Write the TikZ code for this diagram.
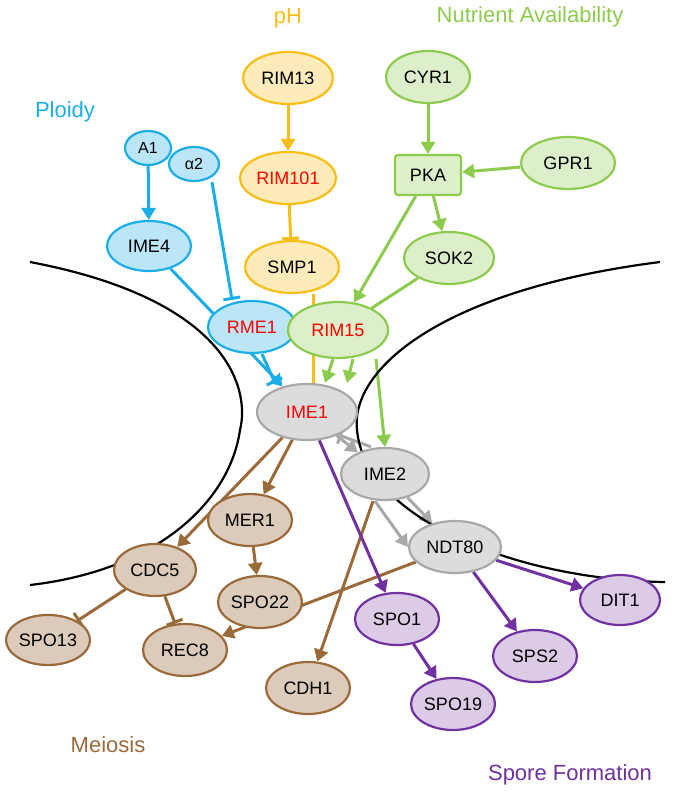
\documentclass[tikz,border=0pt]{standalone}
\usepackage{fontspec}
\setmainfont{Liberation Sans}
\usetikzlibrary{arrows.meta}
\usetikzlibrary{backgrounds}
\usetikzlibrary{shapes}

\definecolor{cBlue}{HTML}{1BADE8}
\definecolor{cYel}{HTML}{F9BE16}
\definecolor{cGrn}{HTML}{8DCB4E}
\definecolor{cGry}{HTML}{A8A8A8}
\definecolor{cBrn}{HTML}{9B6A3A}
\definecolor{cPur}{HTML}{7131A1}

\begin{document}
\begin{tikzpicture}[x=1pt,y=-1pt]
	\tikzset{gene/.style = {shape=ellipse,draw,line width=2.2pt,inner sep=0pt,
			font=\fontsize{18}{20}\selectfont}}
	\tikzset{bl/.style = {gene,draw=cBlue,fill=cBlue!30}}
	\tikzset{ye/.style = {gene,draw=cYel,fill=cYel!30}}
	\tikzset{gr/.style = {gene,draw=cGrn,fill=cGrn!30}}
	\tikzset{gy/.style = {gene,draw=cGry,fill=cGry!40}}
	\tikzset{br/.style = {gene,draw=cBrn,fill=cBrn!35}}
	\tikzset{pu/.style = {gene,draw=cPur,fill=cPur!25}}
	\tikzset{act/.style = {line width=3pt,-{Triangle[length=12pt,width=14pt]}}}
	\tikzset{inh/.style = {line width=3pt,-{Bar[width=17pt,line width=3pt]}}}
	\tikzset{lbl/.style = {font=\fontsize{22}{24}\selectfont}}
	\useasboundingbox (0,0) rectangle (684,800);

	% membranes
	\draw[line width=2.2pt] (30,262) .. controls (230,300) and (250,390) .. (240,430)
		.. controls (230,500) and (160,570) .. (30,585);
	\draw[line width=2.2pt] (660,262) .. controls (440,290) and (350,370) .. (357,430)
		.. controls (365,520) and (520,580) .. (665,582);

	% titles
	\node[lbl,text=cBlue] (tPlo) at (65,112) {Ploidy};
	\node[lbl,text=cYel] (tPh) at (288,18) {pH};
	\node[lbl,text=cGrn] (tNut) at (530,17) {Nutrient Availability};
	\node[lbl,text=cBrn] (tMei) at (108,745) {Meiosis};
	\node[lbl,text=cPur] (tSpo) at (570,775) {Spore Formation};

	% genes
	\node[bl,minimum width=46pt,minimum height=34pt,font=\fontsize{16}{18}\selectfont] (A1) at (148,148) {A1};
	\node[bl,minimum width=50pt,minimum height=34pt,font=\fontsize{16}{18}\selectfont] (a2) at (194,164) {α2};
	\node[bl,minimum width=84pt,minimum height=50pt] (IME4) at (149,246) {IME4};
	\node[bl,minimum width=88pt,minimum height=52pt,text=red] (RME1) at (252,327) {RME1};
	\node[ye,minimum width=90pt,minimum height=52pt] (RIM13) at (288,78) {RIM13};
	\node[ye,minimum width=96pt,minimum height=52pt,text=red] (RIM101) at (288,178) {RIM101};
	\node[ye,minimum width=94pt,minimum height=52pt] (SMP1) at (292,267) {SMP1};
	\node[gr,minimum width=84pt,minimum height=52pt] (CYR1) at (428,77) {CYR1};
	\node[gr,shape=rectangle,rounded corners=3pt,minimum width=66pt,minimum height=40pt] (PKA) at (428,175) {PKA};
	\node[gr,minimum width=94pt,minimum height=52pt] (GPR1) at (568,163) {GPR1};
	\node[gr,minimum width=90pt,minimum height=52pt] (SOK2) at (449,258) {SOK2};
	\node[gr,minimum width=100pt,minimum height=56pt,text=red] (RIM15) at (338,330) {RIM15};
	\node[gy,minimum width=100pt,minimum height=56pt,text=red] (IME1) at (307,412) {IME1};
	\node[gy,minimum width=88pt,minimum height=52pt] (IME2) at (385,474) {IME2};
	\node[gy,minimum width=92pt,minimum height=52pt] (NDT80) at (455,547) {NDT80};
	\node[br,minimum width=84pt,minimum height=52pt] (MER1) at (250,520) {MER1};
	\node[br,minimum width=82pt,minimum height=52pt] (CDC5) at (155,570) {CDC5};
	\node[br,minimum width=84pt,minimum height=52pt] (SPO22) at (260,602) {SPO22};
	\node[br,minimum width=84pt,minimum height=50pt] (SPO13) at (48,640) {SPO13};
	\node[br,minimum width=84pt,minimum height=52pt] (REC8) at (185,650) {REC8};
	\node[br,minimum width=84pt,minimum height=52pt] (CDH1) at (308,688) {CDH1};
	\node[pu,minimum width=84pt,minimum height=52pt] (SPO1) at (397,619) {SPO1};
	\node[pu,minimum width=84pt,minimum height=52pt] (SPO19) at (453,704) {SPO19};
	\node[pu,minimum width=84pt,minimum height=52pt] (SPS2) at (535,656) {SPS2};
	\node[pu,minimum width=80pt,minimum height=50pt] (DIT1) at (620,600) {DIT1};

	% edges
	\begin{scope}[on background layer]
		\draw[act,cBlue] (A1) -- (IME4);
		\draw[inh,cBlue] ([xshift=18pt]a2.south) -- ([xshift=-20pt]RME1.north);
		\draw[act,cBlue] (IME4) -- (IME1);
		\draw[inh,cBlue] ([xshift=10pt]RME1.south) -- ([xshift=-32pt]IME1.north);
		\draw[act,cYel] (RIM13) -- (RIM101);
		\draw[inh,cYel] (RIM101) -- (SMP1);
		\draw[inh,cYel] ([xshift=21pt]SMP1.south) -- ([xshift=6pt,yshift=-4pt]IME1.north);
		\draw[act,cGrn] (CYR1) -- (PKA);
		\draw[act,cGrn] (GPR1) -- (PKA);
		\draw[act,cGrn] (PKA) -- (SOK2);
		\draw[act,cGrn] (PKA) -- (RIM15);
		\draw[line width=3pt,cGrn] (SOK2) -- (RIM15);
		\draw[act,cGrn] ([xshift=-5pt]RIM15.south) -- ([xshift=18pt]IME1.north);
		\draw[act,cGrn] ([xshift=15pt]RIM15.south) -- ([xshift=40pt]IME1.north);
		\draw[act,cGrn] ([xshift=38pt]RIM15.south) -- (IME2.north);
		\draw[act,cGry] (IME1) -- (IME2);
		\draw[inh,cGry] ([xshift=-14pt]IME2.north) -- ([xshift=32pt,yshift=6pt]IME1.south);
		\draw[act,cGry] (IME2) -- (NDT80);
		\draw[act,cGry] ([xshift=-10pt]IME2.south) -- (NDT80.west);
		\draw[act,cBrn] (IME1) -- (MER1);
		\draw[act,cBrn] (IME1) -- (CDC5);
		\draw[act,cBrn] (MER1) -- (SPO22);
		\draw[inh,cBrn] (CDC5) -- (SPO13);
		\draw[inh,cBrn] (CDC5) -- (REC8);
		\draw[act,cBrn] (NDT80) -- (REC8);
		\draw[act,cBrn] ([xshift=-12pt]IME2.south) -- (CDH1);
		\draw[act,cPur] (IME1) -- (SPO1);
		\draw[act,cPur] (SPO1) -- (SPO19);
		\draw[act,cPur] (NDT80) -- (SPS2);
		\draw[act,cPur] (NDT80) -- (DIT1);
	\end{scope}
\end{tikzpicture}
\end{document}
